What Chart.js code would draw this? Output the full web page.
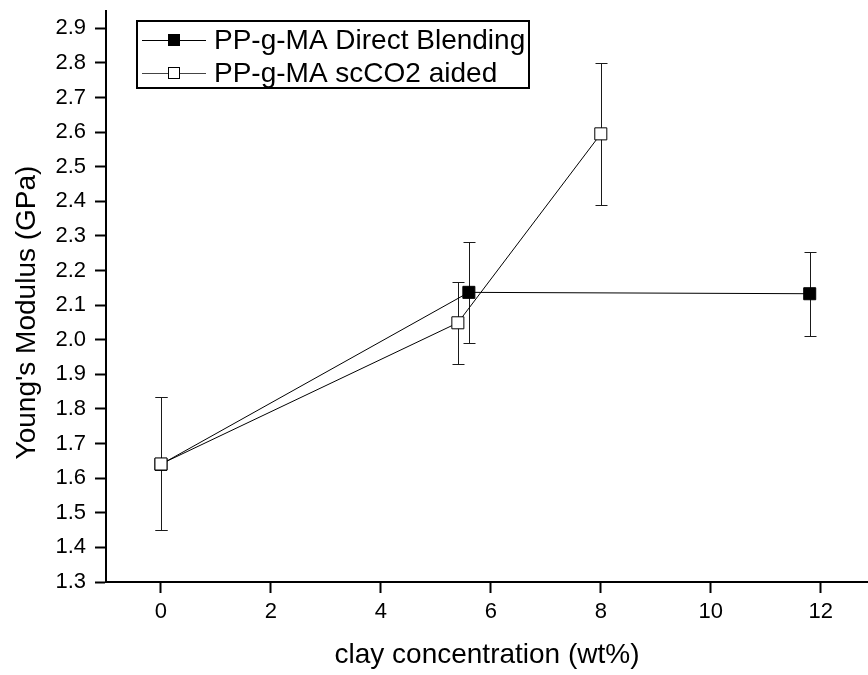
<!DOCTYPE html>
<html>
<head>
<meta charset="utf-8">
<script src="https://cdn.jsdelivr.net/npm/chart.js@4.4.1/dist/chart.umd.min.js"></script>
<style>
  html, body { margin: 0; padding: 0; background: #fff; }
  #wrap { width: 868px; height: 675px; }
</style>
</head>
<body>
<div id="wrap"><canvas id="modulusChart"></canvas></div>
<script>
// values
const seriesNames = ['PP-g-MA Direct Blending', 'PP-g-MA scCO2 aided'];

const directX = [0, 5.6, 11.8];
const directY = [1.64, 2.137, 2.133];
const directLow = [1.45, 1.99, 2.012];
const directHigh = [1.834, 2.283, 2.253];

const scco2X = [0, 5.4, 8];
const scco2Y = [1.641, 2.049, 2.595];
const scco2Low = [1.45, 1.93, 2.39];
const scco2High = [1.834, 2.166, 2.799];

// labelled ticks (the rest are minor ticks)
const xTickValues = [0, 2, 4, 6, 8, 10, 12];
const yTickValues = [1.3, 1.4, 1.5, 1.6, 1.7, 1.8, 1.9, 2.0, 2.1, 2.2, 2.3, 2.4, 2.5, 2.6, 2.7, 2.8, 2.9];

const yTitle = "Young's Modulus (GPa)";
const xTitle = 'clay concentration (wt%)';

const FONT = "'Liberation Sans', Arial, Helvetica, sans-serif";
Chart.defaults.font.family = FONT;
Chart.defaults.color = '#000';

const toPoints = (xs, ys) => xs.map((x, i) => ({ x: x, y: ys[i] }));
const findTick = (list, v) => list.find((t) => Math.abs(t - v) < 1e-6);

// error bars, drawn under the lines / markers
const errorBars = {
  id: 'errorBars',
  beforeDatasetsDraw(chart) {
    const { ctx, scales: { x, y } } = chart;
    ctx.save();
    ctx.strokeStyle = '#1a1a1a';
    ctx.lineWidth = 1;
    chart.data.datasets.forEach((ds) => {
      ds.data.forEach((p, i) => {
        const px = Math.round(x.getPixelForValue(p.x)) + 0.5;
        const top = Math.round(y.getPixelForValue(ds.errHigh[i])) + 0.5;
        const bot = Math.round(y.getPixelForValue(ds.errLow[i])) + 0.5;
        ctx.beginPath();
        ctx.moveTo(px, top); ctx.lineTo(px, bot);
        ctx.moveTo(px - 6, top); ctx.lineTo(px + 6, top);
        ctx.moveTo(px - 6, bot); ctx.lineTo(px + 6, bot);
        ctx.stroke();
      });
    });
    ctx.restore();
  },
};

// short minor ticks between the labelled ones + rotated y title
const axisExtras = {
  id: 'axisExtras',
  afterDraw(chart) {
    const { ctx, chartArea, scales: { x, y } } = chart;
    ctx.save();
    ctx.strokeStyle = '#000';
    ctx.lineWidth = 2;
    ctx.beginPath();
    x.ticks.forEach((t) => {
      if (t.label !== null && t.label !== undefined) return;
      const px = Math.round(x.getPixelForValue(t.value));
      ctx.moveTo(px, x.top); ctx.lineTo(px, x.top + 6);
    });
    y.ticks.forEach((t) => {
      if (t.label !== null && t.label !== undefined) return;
      const py = Math.round(y.getPixelForValue(t.value));
      ctx.moveTo(y.right - 6, py); ctx.lineTo(y.right, py);
    });
    ctx.stroke();

    // y title sits a little below the middle of the axis in the original
    ctx.translate(27, (chartArea.top + chartArea.bottom) / 2 + 16);
    ctx.rotate(-Math.PI / 2);
    ctx.font = '28px ' + FONT;
    ctx.fillStyle = '#000';
    ctx.textAlign = 'center';
    ctx.textBaseline = 'middle';
    ctx.fillText(yTitle, 0, 0);
    ctx.restore();
  },
};

// boxed legend inside the plot, Origin style
const boxLegend = {
  id: 'boxLegend',
  afterDraw(chart) {
    const { ctx, chartArea } = chart;
    const left = chartArea.left + 30, top = 20, w = 394, h = 69;
    ctx.save();
    ctx.strokeStyle = '#000';
    ctx.lineWidth = 2;
    ctx.strokeRect(left + 1, top + 1, w - 2, h - 2);
    ctx.font = '28px ' + FONT;
    ctx.textBaseline = 'middle';
    chart.data.datasets.forEach((ds, i) => {
      const cy = top + 20 + i * 33;
      ctx.strokeStyle = i === 0 ? '#000' : '#444';
      ctx.lineWidth = 1;
      ctx.beginPath();
      ctx.moveTo(left + 6, cy + 0.5); ctx.lineTo(left + 70, cy + 0.5);
      ctx.stroke();
      ctx.fillStyle = ds.pointBackgroundColor;
      ctx.fillRect(left + 32, cy - 6, 12, 12);
      ctx.strokeStyle = '#000';
      ctx.strokeRect(left + 32.5, cy - 5.5, 11, 11);
      ctx.fillStyle = '#000';
      ctx.fillText(ds.label, left + 78, cy + 1);
    });
    ctx.restore();
  },
};

const ctx = document.getElementById('modulusChart').getContext('2d');
new Chart(ctx, {
  type: 'scatter',
  data: {
    datasets: [
      {
        label: seriesNames[0],
        data: toPoints(directX, directY),
        errLow: directLow,
        errHigh: directHigh,
        showLine: true,
        borderColor: '#000',
        borderWidth: 1,
        pointStyle: 'rect',
        pointRadius: 8.5,
        pointHoverRadius: 8.5,
        pointBackgroundColor: '#000',
        pointBorderColor: '#000',
        pointBorderWidth: 1,
        order: 2,
      },
      {
        label: seriesNames[1],
        data: toPoints(scco2X, scco2Y),
        errLow: scco2Low,
        errHigh: scco2High,
        showLine: true,
        borderColor: '#000',
        borderWidth: 1,
        pointStyle: 'rect',
        pointRadius: 8.5,
        pointHoverRadius: 8.5,
        pointBackgroundColor: '#fff',
        pointBorderColor: '#000',
        pointBorderWidth: 1,
        order: 1,
      },
    ],
  },
  plugins: [errorBars, axisExtras, boxLegend],
  options: {
    responsive: true,
    maintainAspectRatio: false,
    animation: false,
    layout: { autoPadding: false, padding: { top: 11, right: 0, left: 0, bottom: 0 } },
    plugins: {
      legend: { display: false },
      tooltip: { enabled: false },
    },
    scales: {
      x: {
        type: 'linear',
        min: -1,
        max: 12.86,
        afterFit: (scale) => {
          scale.height = 93;
          scale.paddingLeft = 0;
          scale.paddingRight = 0;
        },
        border: { display: true, color: '#000', width: 2 },
        grid: {
          drawOnChartArea: false,
          drawTicks: true,
          tickLength: 11,
          tickWidth: 2,
          tickColor: (c) => (c.tick && c.tick.label != null ? '#000' : 'rgba(0,0,0,0)'),
        },
        ticks: {
          stepSize: 1,
          includeBounds: false,
          autoSkip: false,
          maxRotation: 0,
          padding: 6,
          font: { size: 22 },
          callback: (v) => {
            const t = findTick(xTickValues, v);
            return t === undefined ? null : String(t);
          },
        },
        title: {
          display: true,
          text: xTitle,
          font: { size: 28 },
          padding: { top: 0, bottom: 3 },
        },
      },
      y: {
        min: 1.3,
        max: 2.95,
        afterFit: (scale) => {
          scale.width = 106;
          scale.paddingTop = 0;
          scale.paddingBottom = 0;
        },
        border: { display: true, color: '#000', width: 2 },
        grid: {
          drawOnChartArea: false,
          drawTicks: true,
          tickLength: 11,
          tickWidth: 2,
          tickColor: (c) => (c.tick && c.tick.label != null ? '#000' : 'rgba(0,0,0,0)'),
        },
        ticks: {
          stepSize: 0.05,
          includeBounds: false,
          autoSkip: false,
          padding: 9,
          font: { size: 22 },
          callback: (v) => {
            const t = findTick(yTickValues, v);
            return t === undefined ? null : t.toFixed(1);
          },
        },
        title: { display: false },
      },
    },
  },
});
</script>
</body>
</html>
